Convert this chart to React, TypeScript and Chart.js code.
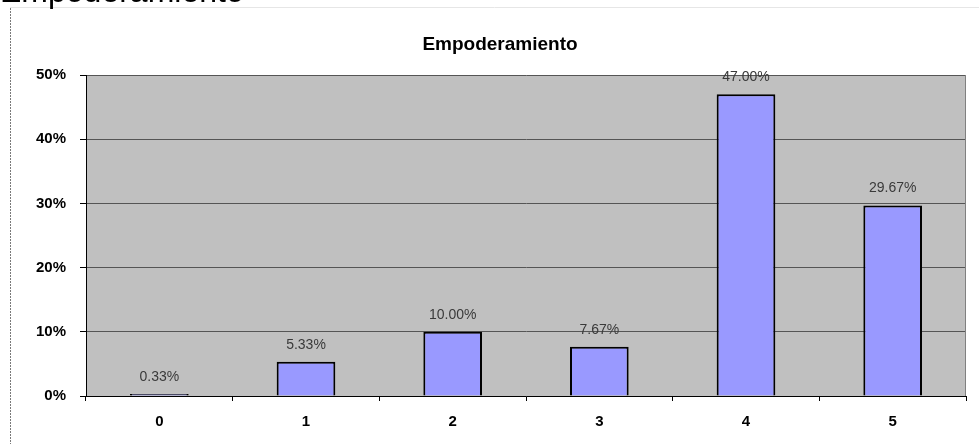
import React, { useEffect, useRef } from "react";
import { Chart, registerables } from "chart.js";

Chart.register(...registerables);

const pageTitle = "Empoderamiento";
const chartTitle = "Empoderamiento";
const categories = ["0", "1", "2", "3", "4", "5"];
const percentValues = [0.33, 5.33, 10.0, 7.67, 47.0, 29.67];
const yTickMax = 50;
const yTickStep = 10;

const FONT = "Arial, 'Liberation Sans', sans-serif";

const decorPlugin = {
  id: "decor",
  beforeDraw(chart: any) {
    const { ctx, chartArea } = chart;
    ctx.save();
    ctx.fillStyle = "#ffffff";
    ctx.fillRect(0, 0, chart.width, chart.height);
    // outer chart frame
    ctx.strokeStyle = "#e6e6e6";
    ctx.lineWidth = 1;
    ctx.beginPath();
    ctx.moveTo(10, 7.5);
    ctx.lineTo(chart.width, 7.5);
    ctx.stroke();
    ctx.strokeStyle = "#7a7a7a";
    ctx.setLineDash([2, 1]);
    ctx.beginPath();
    ctx.moveTo(10.5, 8);
    ctx.lineTo(10.5, chart.height);
    ctx.stroke();
    ctx.setLineDash([]);
    // plot background
    ctx.fillStyle = "#c0c0c0";
    ctx.fillRect(chartArea.left, chartArea.top, chartArea.right - chartArea.left, chartArea.bottom - chartArea.top);
    // title
    ctx.fillStyle = "#000000";
    ctx.font = `bold 19px ${FONT}`;
    ctx.textAlign = "center";
    ctx.textBaseline = "middle";
    ctx.fillText(chartTitle, 500, 45);
    ctx.restore();
  },
  afterDatasetsDraw(chart: any) {
    const { ctx, chartArea } = chart;
    ctx.save();
    // right plot border
    ctx.strokeStyle = "#808080";
    ctx.lineWidth = 1;
    ctx.beginPath();
    ctx.moveTo(chartArea.right - 0.5, chartArea.top);
    ctx.lineTo(chartArea.right - 0.5, chartArea.bottom);
    ctx.stroke();
    // data labels
    const meta = chart.getDatasetMeta(0);
    ctx.fillStyle = "#3a3a3a";
    ctx.font = `14px ${FONT}`;
    ctx.textAlign = "center";
    ctx.textBaseline = "middle";
    meta.data.forEach((bar: any, i: number) => {
      const v = chart.data.datasets[0].data[i] as number;
      ctx.fillText(v.toFixed(2) + "%", bar.x, bar.y - 17);
    });
    ctx.restore();
  },
};

export default function App() {
  const ref = useRef<HTMLCanvasElement | null>(null);

  useEffect(() => {
    document.body.style.margin = "0";
    const canvas = ref.current;
    if (!canvas) return;
    const chart = new Chart(canvas, {
      type: "bar",
      data: {
        labels: categories,
        datasets: [
          {
            data: percentValues,
            backgroundColor: "#9999ff",
            borderColor: "#000000",
            borderWidth: 2,
            barPercentage: 0.4,
            categoryPercentage: 1,
          },
        ],
      },
      options: {
        responsive: false,
        animation: false,
        maintainAspectRatio: false,
        layout: { padding: { left: 0, right: 13, top: 75, bottom: 0 } },
        plugins: {
          legend: { display: false },
          title: { display: false },
          tooltip: { enabled: false },
        },
        scales: {
          x: {
            afterFit(scale: any) {
              scale.height = 48;
            },
            grid: {
              offset: true,
              drawOnChartArea: false,
              drawTicks: true,
              tickLength: 5,
              tickColor: "#000000",
            },
            border: { display: true, color: "#000000", width: 1 },
            ticks: {
              color: "#000000",
              font: { family: FONT, size: 15, weight: "bold" },
              padding: 12,
              maxRotation: 0,
            },
          },
          y: {
            min: 0,
            max: yTickMax,
            afterFit(scale: any) {
              scale.width = 86;
            },
            grid: {
              color: "#555555",
              lineWidth: 1,
              drawTicks: true,
              tickLength: 6,
              tickColor: "#000000",
            },
            border: { display: true, color: "#000000", width: 1 },
            ticks: {
              stepSize: yTickStep,
              color: "#000000",
              font: { family: FONT, size: 15, weight: "bold" },
              padding: 14,
              callback: (v: any) => `${v}%`,
            },
          },
        },
      },
      plugins: [decorPlugin],
    });
    return () => chart.destroy();
  }, []);

  return (
    <div style={{ position: "relative", width: 979, height: 444, overflow: "hidden", background: "#fff" }}>
      <canvas ref={ref} width={979} height={444} style={{ position: "absolute", left: 0, top: 0, width: 979, height: 444 }} />
      <div
        style={{
          position: "absolute",
          left: 0,
          top: -25,
          fontFamily: FONT,
          fontSize: 32,
          lineHeight: "32px",
          color: "#000",
          whiteSpace: "nowrap",
        }}
      >
        {pageTitle}
      </div>
    </div>
  );
}
